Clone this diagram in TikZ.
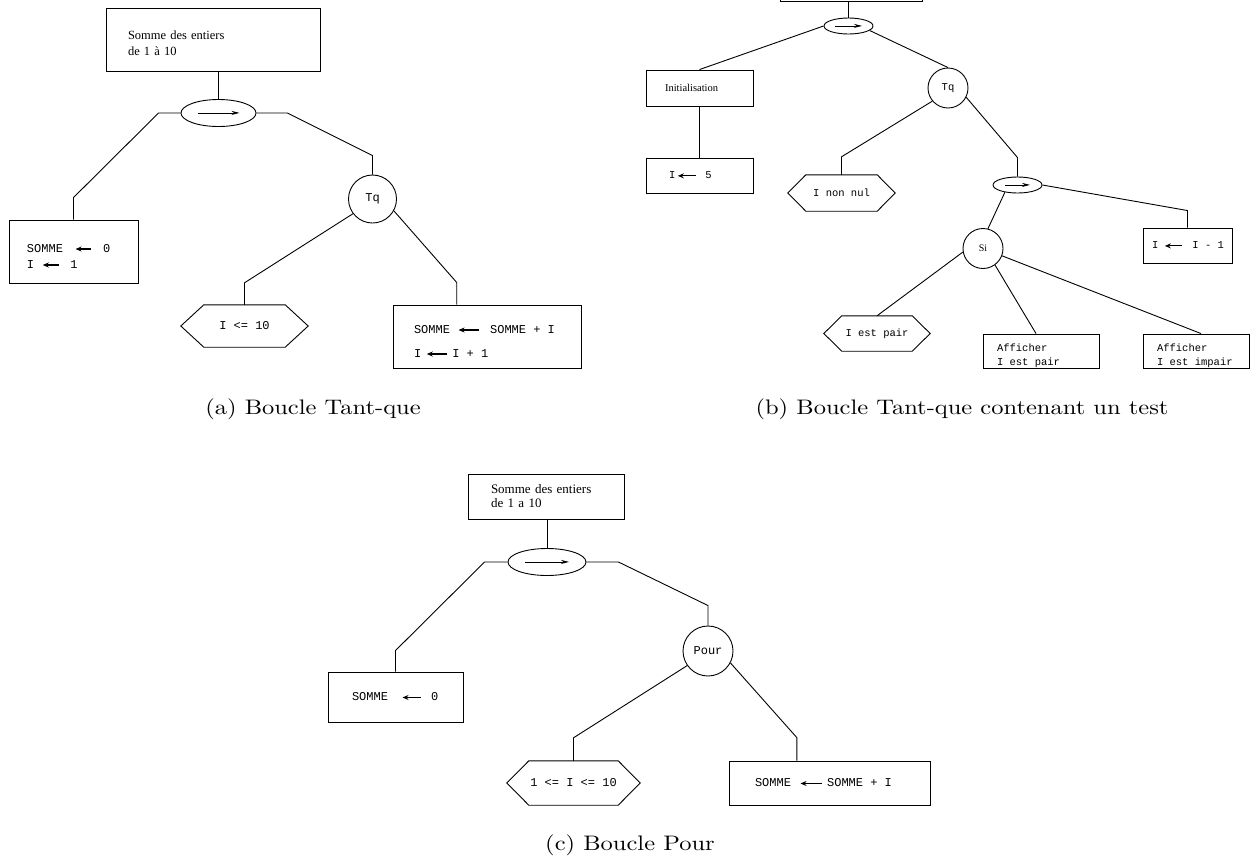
\documentclass[tikz,border=0pt]{standalone}
\usepackage{fontspec}
\usepackage{graphicx}
\usetikzlibrary{shapes.geometric,calc,arrows.meta}
\newfontfamily\tmsfont{Liberation Serif}
\newfontfamily\crfont{Liberation Mono}
% assignment arrow (points left) and sequence arrow (points right)
\newcommand{\affarrow}[1]{\tikz[baseline=-0.55ex]\draw[line width=1.1pt,{Stealth[length=6pt,width=5pt]}-] (0pt,0pt) -- (#1,0pt);}
\newcommand{\seqarrow}[1]{\tikz[baseline=-0.5ex]\draw[line width=0.8pt,-{Stealth[length=8pt,width=4pt]}] (0pt,0pt) -- (#1,0pt);}
% invisible strut that lowers a text block inside its frame
\newcommand{\lowerby}[1]{\rule{0pt}{#1}}
% one typewriter-wide space
\newcommand{\tsp}{\hspace*{0.6em}}
% hexagonal frame around a (borderless) node
\newcommand{\hexframe}[2]{\draw[lnk] ($(#1.north west)+(#2,0)$) -- ($(#1.north east)+(-#2,0)$) -- (#1.east) -- ($(#1.south east)+(-#2,0)$) -- ($(#1.south west)+(#2,0)$) -- (#1.west) -- cycle;}
\newcommand{\serifL}{\tmsfont\fontsize{12.5}{16}\selectfont}
\newcommand{\serifC}{\tmsfont\fontsize{13}{14}\selectfont}
\newcommand{\serifS}{\tmsfont\fontsize{10.5}{12}\selectfont}
\newcommand{\monoL}{\crfont\fontsize{12}{16}\selectfont}
\newcommand{\monoS}{\crfont\fontsize{10.5}{14}\selectfont}
\tikzset{
  lnk/.style={line width=0.9pt},
  boxn/.style={draw, rectangle, line width=0.9pt, inner ysep=0pt, align=left},
  opell/.style={draw, ellipse, line width=0.9pt, inner sep=0pt},
  ctrl/.style={draw, circle, line width=0.9pt, inner sep=0pt},
  hexnode/.style={rectangle, inner sep=0pt, align=center},
  capt/.style={inner sep=0pt}
}
\begin{document}
\begin{tikzpicture}[x=1pt,y=-1pt]
\useasboundingbox (0,0) rectangle (1256,860);
\clip (0,0) rectangle (1256,860);
\fill[white] (0,0) rectangle (1256,860);

% ---------- (a) Boucle Tant-que ----------
\node[boxn, text width=170pt, inner xsep=22pt, minimum height=63pt, font=\serifL] (at) at (213,39.5) {\lowerby{16.5pt}Somme des entiers\\de 1 à 10};
\node[opell, minimum width=75pt, minimum height=27pt] (ae) at (218.5,113) {\seqarrow{42pt}};
\node[ctrl, minimum size=48pt, font=\monoL] (atq) at (372.5,199) {Tq};
\node[boxn, text width=93pt, inner xsep=18pt, minimum height=63pt, font=\monoL] (al) at (73.5,251.5)
  {\lowerby{18pt}SOMME\hspace*{12pt}\affarrow{15pt}\hspace*{12pt}0\\I\hspace*{8pt}\affarrow{16pt}\hspace*{11pt}1};
\node[hexnode, minimum width=127pt, minimum height=42pt, font=\monoL] (ah) at (244.5,326) {I\tsp<=\tsp10};
\node[boxn, text width=146pt, inner xsep=21pt, minimum height=63pt, font=\monoL] (ar) at (487,336.5)
  {\lowerby{18pt}SOMME\hspace*{8pt}\affarrow{20pt}\hspace*{11pt}SOMME\tsp+\tsp I\\[8pt]I\hspace*{5pt}\affarrow{20pt}\hspace*{5pt}I\tsp+\tsp1};
\hexframe{ah}{23}
\coordinate (arj) at ($(ar.north west)!0.34!(ar.north east)$);

\draw[lnk] (at.south -| ae.north) -- (ae.north);
\draw[lnk] (ae.west) -- ++(-22,0) -- ($(al.north)+(0,-22)$) -- (al.north);
\draw[lnk] (ae.east) -- ++(31,0) -- ($(atq.north)+(0,-19)$) -- (atq.north);
\draw[lnk] (atq.217) -- ($(ah.north)+(0,-22)$) -- (ah.north);
\draw[lnk] (atq.-29) -- ($(arj)+(0,-22)$) -- (arj);

\node[capt] (capa) at (313,409) {\scalebox{2.45}[2.1]{(a) Boucle Tant-que}};

% ---------- (b) Boucle Tant-que contenant un test ----------
\node[boxn, minimum width=142pt, minimum height=41pt] (bt) at (851,-19.5) {};
\node[opell, minimum width=49pt, minimum height=16pt] (be) at (848.5,26) {\seqarrow{27pt}};
\node[boxn, text width=69pt, inner xsep=19pt, minimum height=36pt, font=\serifS] (bi) at (699.5,88) {Initialisation};
\node[boxn, text width=61pt, inner xsep=23pt, minimum height=35pt, font=\monoS] (b5) at (699.5,175.5)
  {I\hspace*{2pt}\affarrow{18pt}\hspace*{9pt}5};
\node[ctrl, minimum size=40pt, font=\monoS] (btq) at (948,88) {Tq};
\node[hexnode, minimum width=107pt, minimum height=36pt, font=\monoS] (bh1) at (841.5,193) {I\tsp non\tsp nul};
\hexframe{bh1}{18}
\node[opell, minimum width=49pt, minimum height=16pt] (be2) at (1017.5,185) {\seqarrow{25pt}};
\node[boxn, text width=73pt, inner xsep=8pt, minimum height=35pt, font=\monoS] (bd) at (1187.5,245.5)
  {\hspace*{1pt}I\hspace*{6pt}\affarrow{17pt}\hspace*{10pt}I\tsp-\tsp1};
\node[ctrl, minimum size=40pt, font={\tmsfont\fontsize{10}{12}\selectfont}] (bsi) at (983,248.5) {Si};
\node[hexnode, minimum width=106pt, minimum height=35pt, font=\monoS] (bh2) at (877,333.5) {I\tsp est\tsp pair};
\hexframe{bh2}{18}
\node[boxn, text width=90pt, inner xsep=13pt, minimum height=34pt, font=\monoS] (ba1) at (1041,351)
  {\lowerby{17.5pt}\hspace*{1pt}Afficher\\\hspace*{1pt}I\tsp est\tsp pair};
\node[boxn, text width=80pt, inner xsep=13pt, minimum height=34pt, font=\monoS] (ba2) at (1196,351)
  {\lowerby{17.5pt}\hspace*{1pt}Afficher\\\hspace*{1pt}I\tsp est\tsp impair};

\draw[lnk] (bt.south -| be.north) -- (be.north);
\draw[lnk] (be.west) -- (bi.north);
\draw[lnk] (be.-12) -- (btq.north);
\draw[lnk] (bi.south) -- (b5.north);
\draw[lnk] (btq.220) -- ($(bh1.north)+(0,-18)$) -- (bh1.north);
\draw[lnk] (btq.-27) -- ($(be2.north)+(0,-19)$) -- (be2.north);
\draw[lnk] (be2.east) -- ($(bd.north)+(0,-17)$) -- (bd.north);
\draw[lnk] (be2.-150) -- (bsi.76);
\draw[lnk] (bsi.190) -- (bh2.north);
\draw[lnk] (bsi.-54) -- ($(ba1.north)+(-5,0)$);
\draw[lnk] (bsi.-21) -- ($(ba2.north)+(5,0)$);

\node[capt] (capb) at (962,409) {\scalebox{2.45}[2.1]{(b) Boucle Tant-que contenant un test}};

% ---------- (c) Boucle Pour ----------
\node[boxn, text width=110pt, inner xsep=23pt, minimum height=45pt, font=\serifC] (ct) at (546,496.5) {Somme des entiers\\de 1 a 10};
\node[opell, minimum width=78pt, minimum height=27pt] (ce) at (547,562) {\seqarrow{44pt}};
\node[ctrl, minimum size=50pt, font=\monoL] (cp) at (708,651) {Pour};
\node[boxn, text width=87pt, inner xsep=24pt, minimum height=50pt, font=\monoL] (cl) at (395.5,697)
  {SOMME\hspace*{14pt}\affarrow{18pt}\hspace*{10pt}0};
\node[hexnode, minimum width=133pt, minimum height=44pt, font=\monoL] (ch) at (573.5,783) {1\tsp<=\tsp I\tsp<=\tsp10};
\hexframe{ch}{22}
\node[boxn, text width=149pt, inner xsep=26pt, minimum height=44pt, font=\monoL] (cr) at (829.5,783)
  {SOMME\hspace*{9pt}\affarrow{21pt}\hspace*{5pt}SOMME\tsp+\tsp I};
\coordinate (crj) at ($(cr.north west)!0.338!(cr.north east)$);

\draw[lnk] (ct.south -| ce.north) -- (ce.north);
\draw[lnk] (ce.west) -- ++(-23,0) -- ($(cl.north)+(0,-21)$) -- (cl.north);
\draw[lnk] (ce.east) -- ++(32,0) -- ($(cp.north)+(0,-20)$) -- (cp.north);
\draw[lnk] (cp.215) -- ($(ch.north)+(0,-23)$) -- (ch.north);
\draw[lnk] (cp.-28) -- ($(crj)+(0,-23)$) -- (crj);

\node[capt] (capc) at (630,845) {\scalebox{2.45}[2.1]{(c) Boucle Pour}};
\end{tikzpicture}
\end{document}
